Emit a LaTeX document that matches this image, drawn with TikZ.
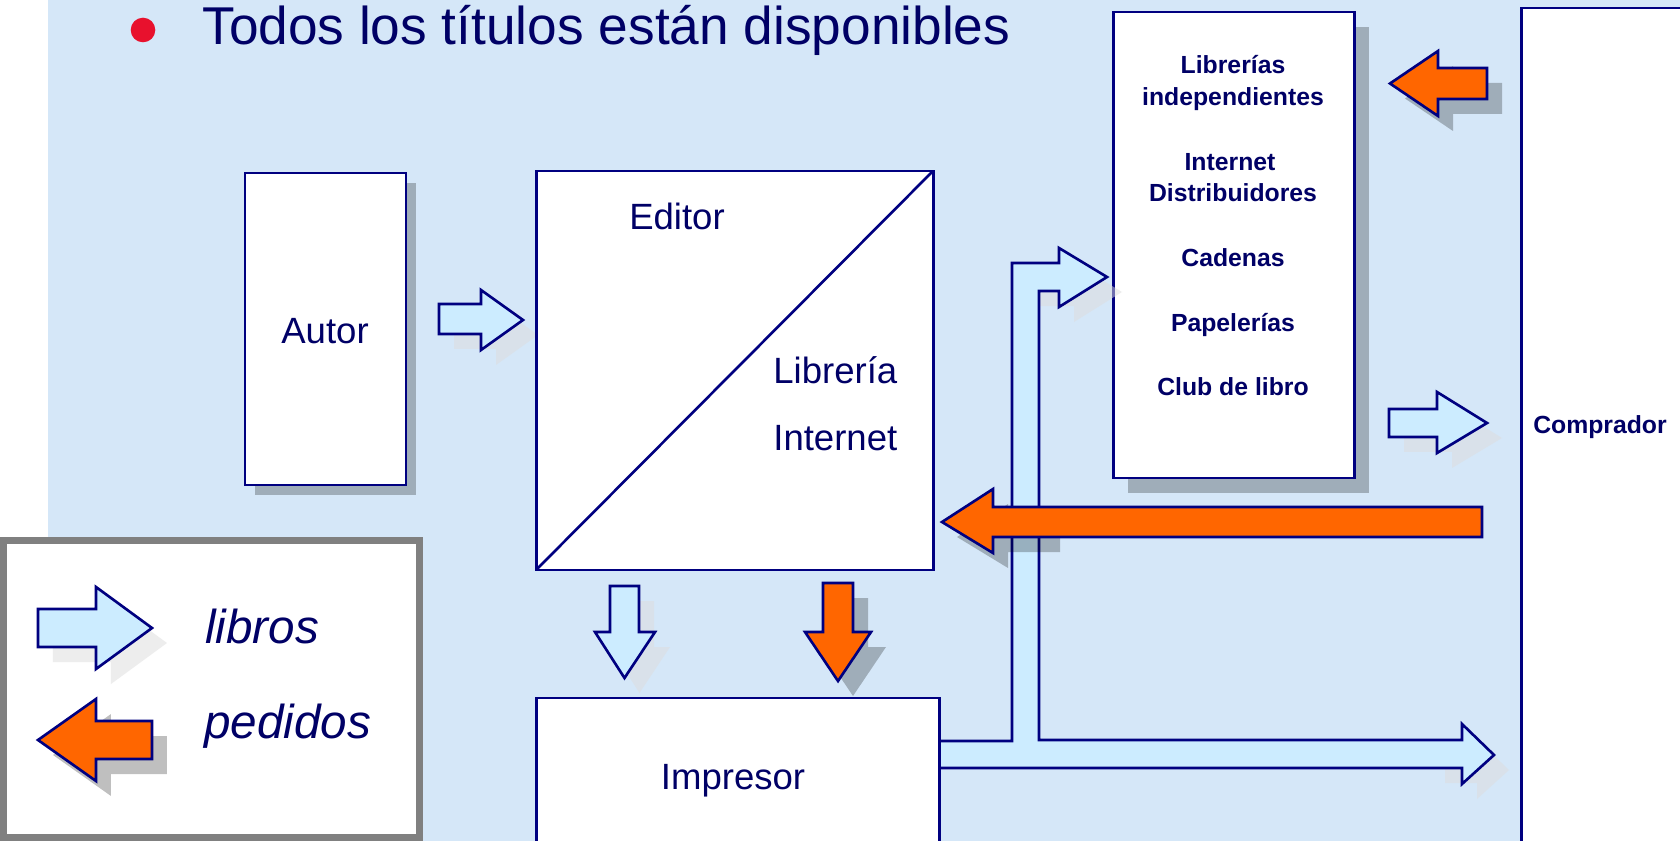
\documentclass[tikz,border=0pt]{standalone}
\usepackage{fontspec}
\setmainfont{Liberation Sans}
\usetikzlibrary{shadows}

\definecolor{bgblue}{RGB}{213,231,248}
\definecolor{navy}{RGB}{0,0,128}
\definecolor{txtblue}{RGB}{0,0,102}
\definecolor{lblue}{RGB}{204,236,255}
\definecolor{orng}{RGB}{255,102,0}
\definecolor{bred}{RGB}{232,17,45}
\definecolor{shgray}{RGB}{221,221,221}
\definecolor{lgray}{RGB}{128,128,128}

\begin{document}
\begin{tikzpicture}[x=0.02cm, y=-0.02cm]
	\tikzset {box/.style={draw=navy, fill=white, line width=1.7pt},
		lb/.style={draw=navy, fill=lblue, line width=1.5pt},
		og/.style={draw=navy, fill=orng, line width=1.5pt},
		lsh/.style={drop shadow={shadow xshift=.3cm, shadow yshift=-.3cm, fill=shgray, opacity=.5}},
		dsh/.style={drop shadow={shadow xshift=.3cm, shadow yshift=-.3cm, fill=black, opacity=.25}},
		lab/.style={text=txtblue, inner sep=0pt, anchor=base, font=\fontsize{20.8}{25}\selectfont},
		lst/.style={text=txtblue, inner sep=0pt, anchor=base, font=\fontsize{14.1}{17}\selectfont\bfseries},
		leg/.style={text=txtblue, inner sep=0pt, anchor=base west, font=\fontsize{27.1}{32}\selectfont\itshape} }
	\useasboundingbox (0,0) rectangle (1680,841);
	\clip (0,0) rectangle (1680,841);
	\fill[white] (0,0) rectangle (1680,841);
	\fill[bgblue] (48,0) rectangle (1680,841);

	\fill[bred] (143,30) circle[radius=12.3];
	\node[text=txtblue, inner sep=0pt, anchor=base west, font=\fontsize{30.3}{36}\selectfont] (title) at (202,45) {Todos los títulos están disponibles};

	\draw[box, drop shadow={shadow xshift=.2cm, shadow yshift=-.2cm, fill=black, opacity=.25}] (245,173) rectangle (406,485);
	\node[lab] (autor) at (325,343) {Autor};
	\draw[lb, lsh] (439,304) -- (481,304) -- (481,290) -- (523,320) -- (481,350) -- (481,334) -- (439,334) -- cycle;

	\draw[box] (536,171) rectangle (933,570);
	\draw[navy, line width=1.5pt] (536,570) -- (933,171);
	\node[lab] (editor) at (677,230) {Editor};
	\node[lab, anchor=base west] (libreria) at (773,383) {Librería};
	\node[lab, anchor=base west] (internet) at (773,450) {Internet};

	\draw[box, dsh] (1113,12) rectangle (1354,478);
	\node[lst] (l1) at (1233,74) {Librerías};
	\node[lst] (l2) at (1233,106) {independientes};
	\node[lst] (l3) at (1230,171) {Internet};
	\node[lst] (l4) at (1233,202) {Distribuidores};
	\node[lst] (l5) at (1233,267) {Cadenas};
	\node[lst] (l6) at (1233,331) {Papelerías};
	\node[lst] (l7) at (1233,395) {Club de libro};

	\draw[box] (1521,8) rectangle (1720,880);
	\node[lst] (comprador) at (1600,433) {Comprador};

	\draw[og, dsh] (1487,68) -- (1438,68) -- (1438,51) -- (1390,83.5) -- (1438,116) -- (1438,99) -- (1487,99) -- cycle;
	\draw[lb, lsh] (1389,409) -- (1437,409) -- (1437,392) -- (1487,423) -- (1437,453) -- (1437,437) -- (1389,437) -- cycle;

	\fill[shgray, fill opacity=.5, shift={(15,15)}] (1024,263) -- (1059,263) -- (1059,248) -- (1107,277) -- (1059,307) -- (1059,291) -- (1024,291) -- cycle;
	\fill[shgray, fill opacity=.5, shift={(15,15)}] (1430,740) -- (1462,740) -- (1462,724) -- (1494,755) -- (1462,784) -- (1462,768) -- (1430,768) -- cycle;
	\draw[lb] (930,741) -- (1012,741) -- (1012,263) -- (1059,263) -- (1059,248) -- (1107,277) -- (1059,307) -- (1059,291) -- (1039,291) -- (1039,740) -- (1462,740) -- (1462,724) -- (1494,755) -- (1462,784) -- (1462,768) -- (930,768) -- cycle;

	\draw[box] (536,698) rectangle (939,880);
	\node[lab] (impresor) at (733,789) {Impresor};

	\fill[black, fill opacity=.25, shift={(15,15)}] (1045,507) -- (993,507) -- (993,489) -- (942,522) -- (993,553) -- (993,537) -- (1045,537) -- cycle;
	\draw[og] (1482,507) -- (993,507) -- (993,489) -- (942,522) -- (993,553) -- (993,537) -- (1482,537) -- cycle;

	\draw[lb, lsh] (610,586) -- (639,586) -- (639,632) -- (655,632) -- (624.5,678) -- (595,632) -- (610,632) -- cycle;
	\draw[og, dsh] (823,583) -- (853,583) -- (853,632) -- (871,632) -- (838,681) -- (805,632) -- (823,632) -- cycle;

	\draw[lgray, fill=white, line width=4pt] (3.5,540.5) rectangle (419.5,837.5);
	\draw[lb, lsh] (38,609) -- (96,609) -- (96,587) -- (152,628) -- (96,669) -- (96,647) -- (38,647) -- cycle;
	\draw[og, dsh] (152,721) -- (96,721) -- (96,699) -- (38,740) -- (96,781) -- (96,759) -- (152,759) -- cycle;
	\node[leg] (libros) at (205,643) {libros};
	\node[leg] (pedidos) at (204,738) {pedidos};
\end{tikzpicture}
\end{document}
